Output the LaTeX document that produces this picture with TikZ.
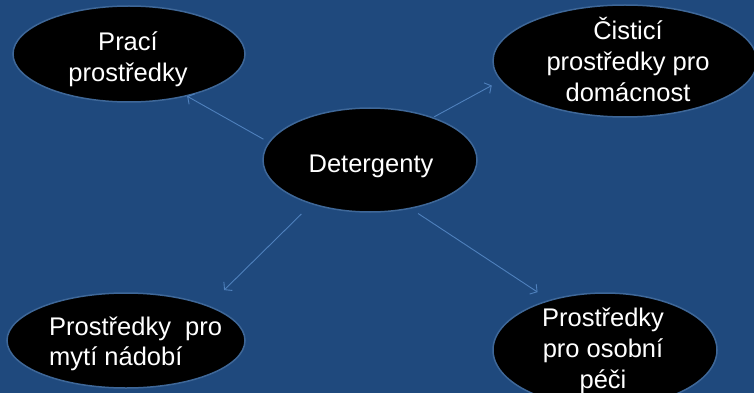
\documentclass[tikz,border=0pt]{standalone}
\usepackage{fontspec}
\setmainfont{Liberation Sans}
\usetikzlibrary{shapes.geometric,arrows.meta}
\definecolor{bg}{RGB}{31,73,125}
\definecolor{rim}{RGB}{62,103,152}
\definecolor{arrowc}{RGB}{79,129,189}
\begin{document}
\begin{tikzpicture}[x=1pt,y=-1pt,
  bubble/.style={ellipse, draw=rim, line width=1.5pt, fill=black, inner sep=0pt},
  caption/.style={text=white, font=\fontsize{25.5}{31}\selectfont, inner sep=0pt},
  link/.style={draw=arrowc, line width=0.9pt, -{Straight Barb[length=5pt,width=12pt]}}]
\fill[bg] (0,0) rectangle (754,393);
\useasboundingbox (0,0) rectangle (754,393);

\node[bubble, minimum width=232pt, minimum height=96pt] (prac) at (129,54) {};
\node[bubble, minimum width=264pt, minimum height=112pt] (cist) at (625,61) {};
\node[bubble, minimum width=214pt, minimum height=104pt] (det) at (370,160) {};
\node[bubble, minimum width=238pt, minimum height=95pt] (myti) at (126,340.5) {};
\node[bubble, minimum width=224pt, minimum height=114pt] (osob) at (605,350) {};

\node[caption, align=center, anchor=base] (pracT) at (128,82) {Prací\\prostředky};
\node[caption, align=center, anchor=base] (cistT) at (628,102) {Čisticí\\prostředky pro\\domácnost};
\node[caption, anchor=base] (detT) at (371,172) {Detergenty};
\node[caption, align=left, anchor=base west, font=\fontsize{25.5}{30}\selectfont] (mytiT) at (49,365) {Prostředky\ \ pro\\mytí nádobí};
\node[caption, align=center, anchor=base] (osobT) at (603,388) {Prostředky\\pro osobní\\péči};

\draw[link, shorten <=6pt] (det.170.6) -- (prac.-36);
\draw[link, shorten <=1pt, shorten >=10pt] (det.34.7) -- (cist.189.8);
\draw[link, shorten <=14pt, shorten >=22pt] (det.217.9) -- (myti.23);
\draw[link, shorten <=8.6pt, shorten >=14pt] (det.-50.5) -- (osob.138.9);
\end{tikzpicture}
\end{document}
